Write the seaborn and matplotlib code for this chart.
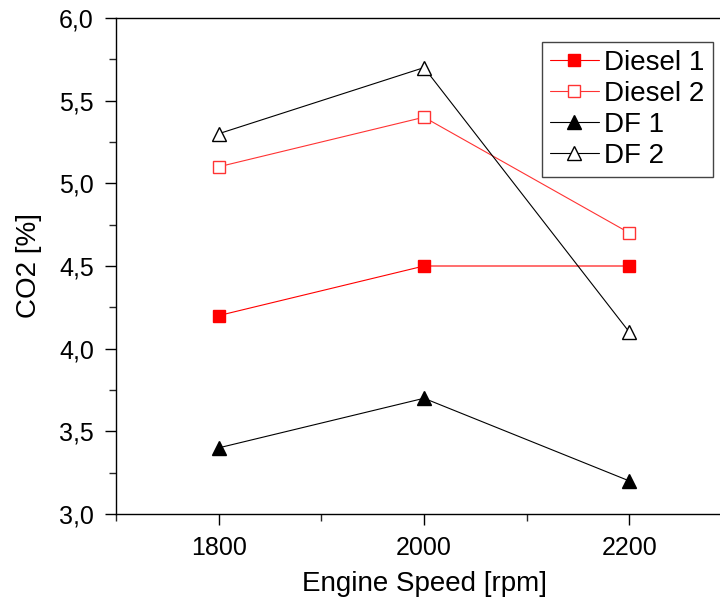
import matplotlib
matplotlib.use('Agg')
import matplotlib.pyplot as plt
import pandas as pd
import seaborn as sns
from matplotlib.ticker import MultipleLocator, FuncFormatter

speed = [1800, 2000, 2200]
diesel1 = [4.2, 4.5, 4.5]
diesel2 = [5.1, 5.4, 4.7]
df1 = [3.4, 3.7, 3.2]
df2 = [5.3, 5.7, 4.1]

sns.set_style('ticks')
plt.rcParams['font.family'] = ['Liberation Sans', 'DejaVu Sans']
plt.rcParams['text.color'] = 'black'
plt.rcParams['axes.labelcolor'] = 'black'

fig = plt.figure(figsize=(7.2, 6.04), dpi=100)
ax = fig.add_axes([116 / 720, 1 - 514 / 604, 616 / 720, 496 / 604])

series = [
    ('Diesel 1', diesel1, '#ff0000', 's', '#ff0000', 9),
    ('Diesel 2', diesel2, '#ff3333', 's', 'white', 9),
    ('DF 1', df1, 'black', '^', 'black', 10.5),
    ('DF 2', df2, 'black', '^', 'white', 10.5),
]
for name, vals, col, mk, face, ms in series:
    d = pd.DataFrame({'speed': speed, 'co2': vals})
    sns.lineplot(data=d, x='speed', y='co2', ax=ax, color=col, linewidth=0.8,
                 marker=mk, markersize=ms, markerfacecolor=face,
                 markeredgecolor=col, markeredgewidth=1, label=name)

ax.set_xlim(1700, 2300)
ax.set_ylim(3.0, 6.0)
ax.xaxis.set_major_locator(MultipleLocator(200))
ax.xaxis.set_minor_locator(MultipleLocator(100))
ax.yaxis.set_major_locator(MultipleLocator(0.5))
ax.yaxis.set_minor_locator(MultipleLocator(0.25))
ax.yaxis.set_major_formatter(FuncFormatter(lambda v, p: f'{v:.1f}'.replace('.', ',')))
ax.tick_params(which='major', direction='out', length=8, width=1, labelsize=18,
               colors='black', pad=8)
ax.tick_params(which='minor', direction='out', length=5, width=1)
for s in ax.spines.values():
    s.set_color('black')
    s.set_linewidth(1)

ax.set_xlabel('Engine Speed [rpm]', fontsize=20, labelpad=8)
ax.set_ylabel('CO2 [%]', fontsize=20, labelpad=12)

leg = ax.legend(loc='upper right', bbox_to_anchor=(0.969, 0.952), fontsize=20,
                frameon=True, fancybox=False, handlelength=1.75,
                borderaxespad=0, labelspacing=0.18, handletextpad=0.2,
                borderpad=0.3)
leg.get_frame().set_edgecolor('#444444')
leg.get_frame().set_linewidth(1)
leg.get_frame().set_alpha(1)

fig.savefig('out.png', dpi=100)
